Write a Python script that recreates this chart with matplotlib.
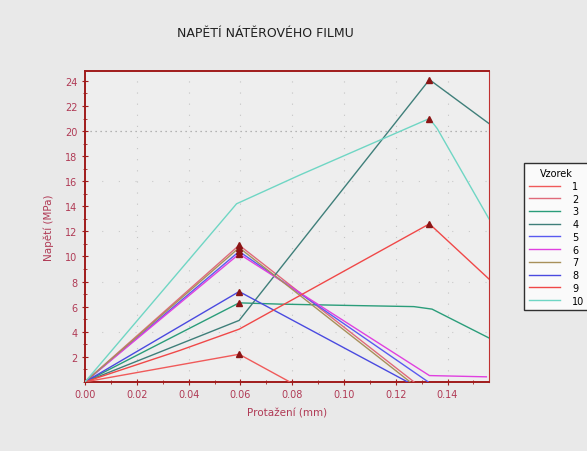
import matplotlib
matplotlib.use("Agg")
import matplotlib.pyplot as plt
from matplotlib.ticker import MultipleLocator, FormatStrFormatter

# Stress-strain curves of paint film samples
series_names = ["1", "2", "3", "4", "5", "6", "7", "8", "9", "10"]
x1 = [0, 0.0595, 0.079]
y1 = [0, 2.2, 0]
x2 = [0, 0.0595, 0.127]
y2 = [0, 10.9, 0]
x3 = [0, 0.0595, 0.075, 0.10, 0.127, 0.134, 0.156]
y3 = [0, 6.3, 6.2, 6.1, 6.0, 5.8, 3.5]
x4 = [0, 0.0595, 0.133, 0.156]
y4 = [0, 4.9, 24.1, 20.6]
x5 = [0, 0.0595, 0.1325]
y5 = [0, 10.4, 0]
x6 = [0, 0.0595, 0.133, 0.155]
y6 = [0, 10.2, 0.5, 0.4]
x7 = [0, 0.0595, 0.1255]
y7 = [0, 10.7, 0]
x8 = [0, 0.0595, 0.1245]
y8 = [0, 7.2, 0]
x9 = [0, 0.0365, 0.0595, 0.133, 0.156]
y9 = [0, 2.5, 4.2, 12.6, 8.2]
x10 = [0, 0.0585, 0.083, 0.133, 0.136, 0.156]
y10 = [0, 14.2, 16.5, 21.0, 20.2, 13.0]

xs = [x1, x2, x3, x4, x5, x6, x7, x8, x9, x10]
ys = [y1, y2, y3, y4, y5, y6, y7, y8, y9, y10]
colors = ["#f05a5a", "#e06a7a", "#2a9d7a", "#3f7f7a", "#5a5af0",
          "#e040e0", "#a8905a", "#4a4ae0", "#f04848", "#6fd6c4"]

x_ticks = [0.00, 0.02, 0.04, 0.06, 0.08, 0.10, 0.12, 0.14]
y_ticks = [2, 4, 6, 8, 10, 12, 14, 16, 18, 20, 22, 24]

axis_red = "#a01c1c"
label_col = "#b03a55"

fig = plt.figure(figsize=(5.87, 4.52), dpi=100, facecolor="#e9e9e9")
ax = fig.add_axes([0.145, 0.153, 0.688, 0.688], facecolor="#eeeeee")

for name, xv, yv, c in zip(series_names, xs, ys, colors):
    ax.plot(xv, yv, color=c, lw=1.0, label=name, zorder=3)
    i = max(range(len(yv)), key=lambda k: yv[k])
    ax.plot([xv[i]], [yv[i]], marker="^", color="#8b1515", ms=5,
            ls="none", zorder=4)

ax.set_xlim(0, 0.156)
ax.set_ylim(0, 24.8)
ax.set_xticks(x_ticks)
ax.set_yticks(y_ticks)
ax.xaxis.set_major_formatter(FormatStrFormatter("%.2f"))
ax.xaxis.set_minor_locator(MultipleLocator(0.01))
ax.yaxis.set_minor_locator(MultipleLocator(1))
ax.tick_params(axis="both", which="both", colors=axis_red, labelcolor=label_col,
               labelsize=7)
ax.tick_params(which="major", length=4, direction="inout")
ax.tick_params(which="minor", length=3, direction="inout")

# faint, sparse dotted guides
for xv in x_ticks[1:]:
    ax.axvline(xv, color="#c4c4c4", ls=(0, (1, 9)), lw=0.8, zorder=1)
for yv in [4, 8, 12, 16]:
    ax.axhline(yv, color="#cacaca", ls=(0, (1, 14)), lw=0.8, zorder=1)
ax.axhline(20, color="#a0a0a0", ls=(0, (1, 3)), lw=0.9, zorder=1)

for side in ["left", "bottom", "top"]:
    ax.spines[side].set_color(axis_red)
    ax.spines[side].set_linewidth(1.4)
ax.spines["right"].set_color("#c03030")
ax.spines["right"].set_linewidth(0.8)

ax.set_xlabel("Protažení (mm)", color=label_col, fontsize=7.5, labelpad=6)
ax.set_ylabel("Napětí (MPa)", color=label_col, fontsize=7.5, labelpad=8)
fig.text(0.452, 0.925, "NAPĚTÍ NÁTĚROVÉHO FILMU", ha="center", va="center",
         fontsize=9, color="#202020")

leg = fig.legend(loc="upper left", bbox_to_anchor=(0.884, 0.647),
                 title="Vzorek", fontsize=7, title_fontsize=7,
                 frameon=True, fancybox=False, handlelength=3.2,
                 labelspacing=0.28, borderpad=0.5, handletextpad=1.3,
                 alignment="center")
leg.get_frame().set_edgecolor("black")
leg.get_frame().set_linewidth(1.0)
leg.get_frame().set_facecolor("white")

fig.savefig("out.png", dpi=100, facecolor=fig.get_facecolor())
